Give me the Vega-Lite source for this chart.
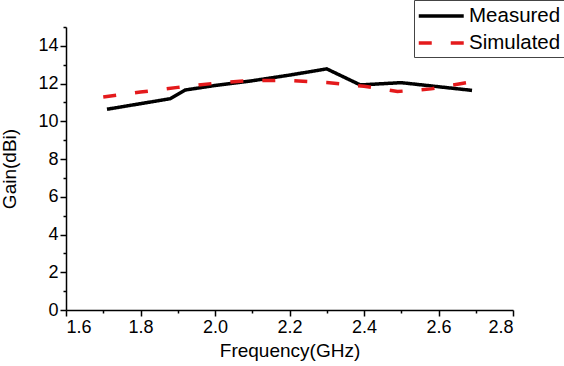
{
  "$schema": "https://vega.github.io/schema/vega-lite/v6.json",
  "width": 447,
  "height": 283,
  "autosize": {"type": "none"},
  "padding": {"left": 66, "top": 27, "right": 51, "bottom": 56},
  "background": "white",
  "config": {
    "view": {"stroke": null},
    "font": "Liberation Sans",
    "axis": {
      "domainColor": "black",
      "domainWidth": 1.5,
      "tickColor": "black",
      "tickWidth": 1.5,
      "labelColor": "black",
      "labelFontSize": 18,
      "labelFont": "Liberation Sans",
      "titleFont": "Liberation Sans",
      "titleFontSize": 19,
      "titleFontWeight": "normal",
      "titleColor": "black",
      "grid": false
    }
  },
  "data": {
    "values": [
      {"freq": 1.71, "gain": 10.64, "series": "Measured"},
      {"freq": 1.88, "gain": 11.2, "series": "Measured"},
      {"freq": 1.92, "gain": 11.66, "series": "Measured"},
      {"freq": 2.0, "gain": 11.9, "series": "Measured"},
      {"freq": 2.1, "gain": 12.15, "series": "Measured"},
      {"freq": 2.2, "gain": 12.45, "series": "Measured"},
      {"freq": 2.3, "gain": 12.78, "series": "Measured"},
      {"freq": 2.39, "gain": 11.93, "series": "Measured"},
      {"freq": 2.5, "gain": 12.05, "series": "Measured"},
      {"freq": 2.69, "gain": 11.64, "series": "Measured"},
      {"freq": 1.7, "gain": 11.29, "series": "Simulated"},
      {"freq": 1.8, "gain": 11.55, "series": "Simulated"},
      {"freq": 1.9, "gain": 11.8, "series": "Simulated"},
      {"freq": 2.0, "gain": 12.02, "series": "Simulated"},
      {"freq": 2.1, "gain": 12.17, "series": "Simulated"},
      {"freq": 2.2, "gain": 12.17, "series": "Simulated"},
      {"freq": 2.3, "gain": 12.06, "series": "Simulated"},
      {"freq": 2.4, "gain": 11.86, "series": "Simulated"},
      {"freq": 2.49, "gain": 11.58, "series": "Simulated"},
      {"freq": 2.58, "gain": 11.72, "series": "Simulated"},
      {"freq": 2.69, "gain": 12.1, "series": "Simulated"}
    ]
  },
  "mark": {"type": "line", "strokeWidth": 3.5, "strokeCap": "butt"},
  "encoding": {
    "x": {
      "field": "freq",
      "type": "quantitative",
      "title": "Frequency(GHz)",
      "scale": {"domain": [1.6, 2.8], "nice": false, "zero": false},
      "axis": {
        "values": [1.6, 1.7, 1.8, 1.9, 2.0, 2.1, 2.2, 2.3, 2.4, 2.5, 2.6, 2.7, 2.8],
        "labelExpr": "round(datum.value*10) % 2 == 0 ? format(datum.value, '.1f') : ''",
        "tickSize": {"condition": {"test": "round(datum.value*10) % 2 == 0", "value": 6}, "value": 3},
        "labelPadding": 2,
        "titlePadding": 5
      }
    },
    "y": {
      "field": "gain",
      "type": "quantitative",
      "title": "Gain(dBi)",
      "scale": {"domain": [0, 15], "nice": false},
      "axis": {
        "values": [0, 1, 2, 3, 4, 5, 6, 7, 8, 9, 10, 11, 12, 13, 14, 15],
        "labelExpr": "datum.value % 2 == 0 && datum.value < 15 ? datum.label : ''",
        "tickSize": {"condition": {"test": "datum.value % 2 == 0", "value": 6}, "value": 3},
        "labelPadding": 2,
        "titlePadding": 18
      }
    },
    "color": {
      "field": "series",
      "type": "nominal",
      "scale": {"domain": ["Measured", "Simulated"], "range": ["black", "#e41a1c"]},
      "legend": {
        "title": null,
        "orient": "none",
        "legendX": 348,
        "legendY": -27,
        "strokeColor": "#444",
        "fillColor": "white",
        "padding": 3,
        "labelFontSize": 20.5,
        "labelColor": "black",
        "labelFont": "Liberation Sans",
        "symbolType": "M-1,0H3",
        "symbolSize": 506,
        "symbolStrokeWidth": 3.5,
        "symbolFillColor": "transparent",
        "rowPadding": 3,
        "labelOffset": 26
      }
    },
    "strokeDash": {
      "field": "series",
      "type": "nominal",
      "scale": {"domain": ["Measured", "Simulated"], "range": [[1, 0], [13, 19]]},
      "legend": {
        "title": null,
        "orient": "none",
        "legendX": 348,
        "legendY": -27,
        "strokeColor": "#444",
        "fillColor": "white",
        "padding": 3,
        "labelFontSize": 20.5,
        "labelColor": "black",
        "labelFont": "Liberation Sans",
        "symbolType": "M-1,0H3",
        "symbolSize": 506,
        "symbolStrokeWidth": 3.5,
        "symbolFillColor": "transparent",
        "rowPadding": 3,
        "labelOffset": 26
      }
    }
  }
}
